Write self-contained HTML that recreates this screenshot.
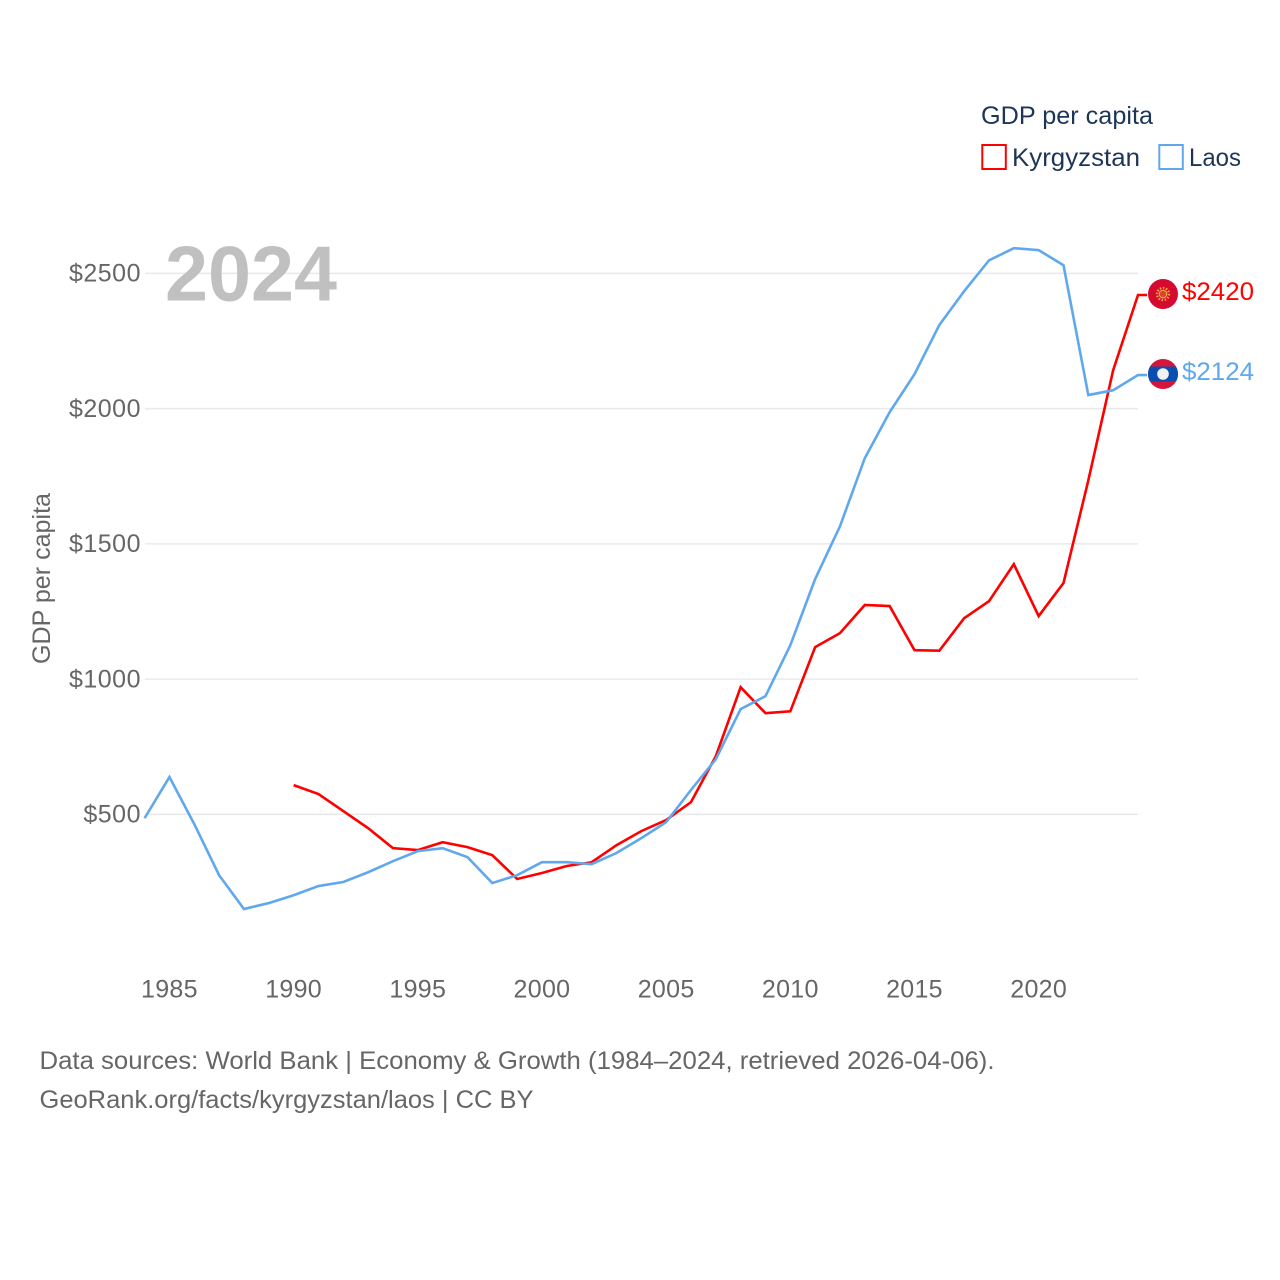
<!DOCTYPE html>
<html lang="en">
<head>
<meta charset="utf-8">
<title>GDP per capita: Kyrgyzstan and Laos</title>
<style>
  html, body { margin: 0; padding: 0; background: #fff; }
  svg { display: block; }
  text { font-family: "Liberation Sans", sans-serif; }
</style>
</head>
<body>
<svg id="chart" xmlns="http://www.w3.org/2000/svg" width="1280" height="1280" viewBox="0 0 1280 1280">
  <rect width="1280" height="1280" fill="#ffffff"/>
  <g id="grid"></g>
  <text x="165" y="300.5" font-size="78" font-weight="700" fill="#bdbdbd" fill-opacity="0.95" textLength="172" lengthAdjust="spacingAndGlyphs">2024</text>
  <g id="y-axis"></g>
  <g id="x-axis"></g>
  <text transform="translate(50,664) rotate(-90)" font-size="25" fill="#666666" textLength="171" lengthAdjust="spacingAndGlyphs">GDP per capita</text>
  <g id="series"></g>

  <g>
    <text x="981" y="124" font-size="25" fill="#1d3557" textLength="172" lengthAdjust="spacingAndGlyphs">GDP per capita</text>
    <rect x="982.3" y="145" width="23.5" height="24" fill="none" stroke="#ff0000" stroke-width="2"/>
    <text x="1012" y="166" font-size="25" fill="#1d3557" textLength="128" lengthAdjust="spacingAndGlyphs">Kyrgyzstan</text>
    <rect x="1159.3" y="145" width="23.5" height="24" fill="none" stroke="#60a8ee" stroke-width="2"/>
    <text x="1189" y="166" font-size="25" fill="#1d3557" textLength="52" lengthAdjust="spacingAndGlyphs">Laos</text>
  </g>

  <defs>
    <clipPath id="flag-clip-la"><circle cx="1163" cy="374" r="15"/></clipPath>
  </defs>
  <g>
    <circle cx="1163" cy="294" r="15" fill="#d6092f"/>
    <circle cx="1163" cy="294" r="6" fill="none" stroke="#f0a83a" stroke-width="2.4" stroke-dasharray="1.5 1.6"/>
    <circle cx="1163" cy="294" r="3.8" fill="#e0402f" stroke="#f5bc48" stroke-width="1"/>
  </g>
  <g clip-path="url(#flag-clip-la)">
    <rect x="1148" y="359" width="30" height="30" fill="#d6153a"/>
    <rect x="1148" y="366.5" width="30" height="15" fill="#0a4fb0"/>
    <circle cx="1163" cy="374" r="5.8" fill="#f2f2f2"/>
  </g>

  <g>
    <text x="39.5" y="1069" font-size="25" fill="#666666" textLength="955" lengthAdjust="spacingAndGlyphs">Data sources: World Bank | Economy &amp; Growth (1984–2024, retrieved 2026-04-06).</text>
    <text x="39.5" y="1108" font-size="25" fill="#666666" textLength="494" lengthAdjust="spacingAndGlyphs">GeoRank.org/facts/kyrgyzstan/laos | CC BY</text>
  </g>
</svg>

<script>
const yTickValues = [500, 1000, 1500, 2000, 2500];
const yTickLabels = ["$500", "$1000", "$1500", "$2000", "$2500"];
const xTickYears = [1985, 1990, 1995, 2000, 2005, 2010, 2015, 2020];
const xTickLabels = ["1985", "1990", "1995", "2000", "2005", "2010", "2015", "2020"];

const laosStartYear = 1984;
const laosValues = [486, 638, 464, 275, 150, 172, 201, 235, 250, 286, 327, 364, 375, 342, 246, 275, 323, 323, 316, 357, 412, 471, 590, 704, 889, 937, 1125, 1370, 1565, 1817, 1987, 2127, 2309, 2434, 2548, 2593, 2586, 2530, 2050, 2068, 2124];

const kyrgyzstanStartYear = 1990;
const kyrgyzstanValues = [608, 575, 512, 449, 375, 368, 397, 379, 349, 261, 283, 309, 323, 386, 438, 479, 545, 715, 970, 874, 881, 1118, 1170, 1274, 1270, 1107, 1105, 1225, 1288, 1425, 1233, 1355, 1735, 2142, 2420];

const kyrgyzstanEndLabel = "$2420";
const laosEndLabel = "$2124";

const SVG_NS = "http://www.w3.org/2000/svg";
function xScale(year) { return 144.6 + (year - 1984) * (1138 - 144.6) / 40; }
function yScale(value) { return 949.6 - value * 0.2705; }

const gridGroup = document.getElementById("grid");
const yAxisGroup = document.getElementById("y-axis");
const xAxisGroup = document.getElementById("x-axis");
const seriesGroup = document.getElementById("series");

yTickValues.forEach(function (value, i) {
  const y = yScale(value);
  const line = document.createElementNS(SVG_NS, "line");
  
  
  line.setAttribute("x1", 145);
  line.setAttribute("x2", 1138);
  line.setAttribute("y1", y);
  line.setAttribute("y2", y);
  line.setAttribute("stroke", "#e9e9e9");
  line.setAttribute("stroke-width", "1.5");
  gridGroup.appendChild(line);

  const label = document.createElementNS(SVG_NS, "text");
  
  
  label.setAttribute("x", 141);
  label.setAttribute("y", y + 8.3);
  label.setAttribute("text-anchor", "end");
  label.setAttribute("font-size", "25");
  label.setAttribute("letter-spacing", "0.5");
  label.setAttribute("fill", "#666666");
  label.textContent = yTickLabels[i];
  yAxisGroup.appendChild(label);
});

xTickYears.forEach(function (year, i) {
  const label = document.createElementNS(SVG_NS, "text");
  
  
  label.setAttribute("x", xScale(year));
  label.setAttribute("y", 997.5);
  label.setAttribute("text-anchor", "middle");
  label.setAttribute("font-size", "25");
  label.setAttribute("letter-spacing", "0.3");
  label.setAttribute("fill", "#666666");
  label.textContent = xTickLabels[i];
  xAxisGroup.appendChild(label);
});

function seriesPoints(startYear, values) {
  const pts = values.map(function (v, i) {
    return xScale(startYear + i).toFixed(2) + "," + yScale(v).toFixed(2);
  });
  const last = values[values.length - 1];
  pts.push("1147," + yScale(last).toFixed(2));
  return pts.join(" ");
}

const kyrgyzstanLine = document.createElementNS(SVG_NS, "polyline");


kyrgyzstanLine.setAttribute("points", seriesPoints(kyrgyzstanStartYear, kyrgyzstanValues));
kyrgyzstanLine.setAttribute("fill", "none");
kyrgyzstanLine.setAttribute("stroke", "#ff0000");
kyrgyzstanLine.setAttribute("stroke-width", "2.6");
seriesGroup.appendChild(kyrgyzstanLine);

const laosLine = document.createElementNS(SVG_NS, "polyline");


laosLine.setAttribute("points", seriesPoints(laosStartYear, laosValues));
laosLine.setAttribute("fill", "none");
laosLine.setAttribute("stroke", "#60a8ee");
laosLine.setAttribute("stroke-width", "2.6");
seriesGroup.appendChild(laosLine);

const kyrgyzstanValueLabel = document.createElementNS(SVG_NS, "text");


kyrgyzstanValueLabel.setAttribute("x", 1182);
kyrgyzstanValueLabel.setAttribute("y", 300);
kyrgyzstanValueLabel.setAttribute("font-size", "25");
kyrgyzstanValueLabel.setAttribute("fill", "#ff0000");
kyrgyzstanValueLabel.setAttribute("textLength", "72");
kyrgyzstanValueLabel.setAttribute("lengthAdjust", "spacingAndGlyphs");
kyrgyzstanValueLabel.textContent = kyrgyzstanEndLabel;
seriesGroup.appendChild(kyrgyzstanValueLabel);

const laosValueLabel = document.createElementNS(SVG_NS, "text");


laosValueLabel.setAttribute("x", 1182);
laosValueLabel.setAttribute("y", 380);
laosValueLabel.setAttribute("font-size", "25");
laosValueLabel.setAttribute("fill", "#60a8ee");
laosValueLabel.setAttribute("textLength", "72");
laosValueLabel.setAttribute("lengthAdjust", "spacingAndGlyphs");
laosValueLabel.textContent = laosEndLabel;
seriesGroup.appendChild(laosValueLabel);
</script>
</body>
</html>
